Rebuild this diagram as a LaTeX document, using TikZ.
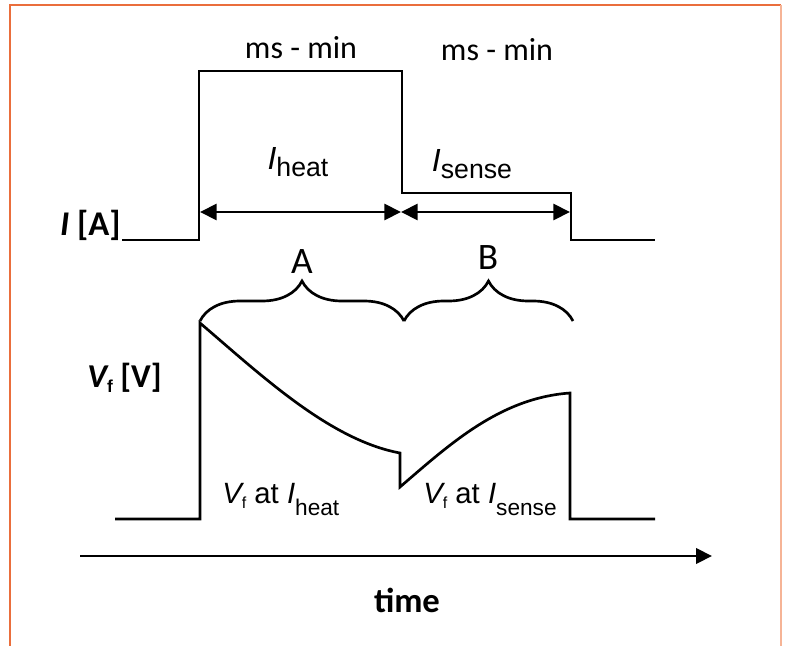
\documentclass[tikz,border=0pt]{standalone}
\usepackage{fontspec}
\setmainfont{Carlito}
\newfontfamily\arialfont{Liberation Sans}
\usetikzlibrary{arrows.meta,decorations.pathreplacing,positioning}
\definecolor{frameorange}{RGB}{234,110,60}
\definecolor{framepale}{RGB}{246,180,150}

% subscript in the Arial-like face, lowered
\newcommand{\lowsub}[3]{\raisebox{-#2}{\arialfont\upshape\fontsize{#1}{#1}\selectfont #3}}

\tikzset{
  wave/.style={line width=2pt, line join=miter},
  span/.style={line width=2.1pt, {Triangle[length=12.5pt,width=12pt]}-{Triangle[length=12.5pt,width=12pt]}},
  phase/.style={line width=2pt, decorate, decoration={brace, amplitude=30pt}},
  lbl/.style={inner sep=0pt, font=\fontsize{23}{27}\selectfont},
  axislbl/.style={inner sep=0pt, font=\fontsize{25}{29}\selectfont\bfseries},
}

\begin{document}
\begin{tikzpicture}[x=0.75pt, y=-0.75pt]
  \useasboundingbox (0,0) rectangle (786,646);

  % frame
  \draw[frameorange, line width=1.5pt] (10,646) -- (10,5) -- (781,5);
  \draw[framepale, line width=1.5pt] (781,5) -- (781,646);

  % current waveform
  \coordinate (i0) at (122,240);
  \coordinate (i1) at (199,240);
  \coordinate (i2) at (199,71);
  \coordinate (i3) at (402,71);
  \coordinate (i4) at (402,193);
  \coordinate (i5) at (571,193);
  \coordinate (i6) at (571,240);
  \coordinate (i7) at (655,240);
  \draw[wave] (i0) -- (i1) -- (i2) -- (i3) -- (i4) -- (i5) -- (i6) -- (i7);

  \coordinate (a0) at (200,212);
  \coordinate (a1) at (401,212);
  \coordinate (a2) at (570,212);
  \draw[span] (a0) -- (a1);
  \draw[span] (a1) -- (a2);

  \node[lbl, font=\fontsize{24}{28}\selectfont] (msheat) at (301,48) {ms - min};
  \node[lbl, font=\fontsize{24}{28}\selectfont] (mssense) at (497,50) {ms - min};
  \node[lbl, font=\fontsize{24}{28}\selectfont] (iheat) at (298,162) {\arialfont\itshape I\lowsub{20}{5pt}{heat}};
  \node[lbl, font=\fontsize{24}{28}\selectfont] (isense) at (472,164) {\arialfont\itshape I\lowsub{20}{5pt}{sense}};
  \node[axislbl, anchor=east, font=\fontsize{26}{30}\selectfont\bfseries] (curlabel) at (121,225) {\itshape I\upshape{} [A]};

  % phases
  \coordinate (b0) at (200,321);
  \coordinate (b1) at (404,321);
  \coordinate (b2) at (573,321);
  \draw[phase] (b0) -- (b1);
  \draw[phase] (b1) -- (b2);
  \node[lbl, font=\fontsize{28}{32}\selectfont] (phaseA) at (302,262) {A};
  \node[lbl, font=\fontsize{28}{32}\selectfont] (phaseB) at (488,258) {B};

  % forward voltage
  \coordinate (v0) at (115,519);
  \coordinate (v1) at (200,519);
  \coordinate (v2) at (200,323);
  \coordinate (v3) at (400,453);
  \coordinate (v4) at (400,487);
  \coordinate (v5) at (570,393);
  \coordinate (v6) at (570,519);
  \coordinate (v7) at (655,519);
  \draw[wave] (v0) -- (v1) -- (v2)
    .. controls (262,376) and (330,440) .. (v3) -- (v4)
    .. controls (450,444) and (500,398) .. (v5) -- (v6) -- (v7);

  \node[axislbl, anchor=east] (vlabel) at (162,378) {\itshape V\lowsub{13}{4pt}{\bfseries f}\upshape{} [V]};
  \node[lbl, anchor=base west, font=\fontsize{22}{26}\selectfont\arialfont] (vheat) at (222,503)
    {\itshape V\upshape\lowsub{12}{4pt}{f} at \itshape I\upshape\lowsub{17}{9pt}{heat}};
  \node[lbl, anchor=base west, font=\fontsize{22}{26}\selectfont\arialfont] (vsense) at (423,503)
    {\itshape V\upshape\lowsub{12}{4pt}{f} at \itshape I\upshape\lowsub{17}{9pt}{sense}};

  % time axis
  \coordinate (t0) at (80,556);
  \coordinate (t1) at (712,556);
  \draw[line width=2.2pt, -{Triangle[length=12pt,width=11.5pt]}] (t0) -- (t1);
  \node[axislbl, font=\fontsize{26}{30}\selectfont\bfseries] (timelabel) at (407,600) {time};
\end{tikzpicture}
\end{document}
